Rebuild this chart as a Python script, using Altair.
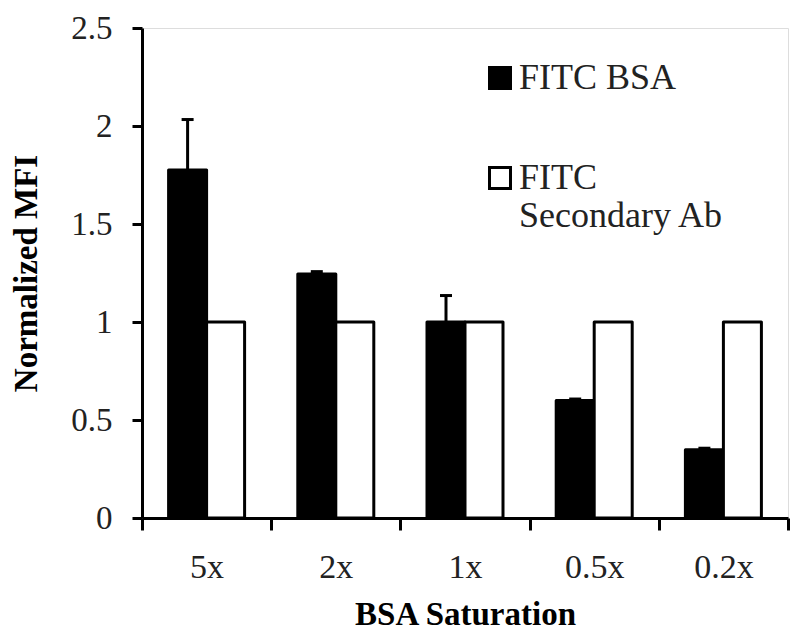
import altair as alt
import pandas as pd

categories = ["5x", "2x", "1x", "0.5x", "0.2x"]
series = ["FITC BSA", "FITC Secondary Ab"]
bsa_values = [1.775, 1.245, 1.0, 0.60, 0.348]
bsa_errors = [0.258, 0.012, 0.135, 0.007, 0.008]
secondary_values = [1.0, 1.0, 1.0, 1.0, 1.0]
y_ticks = [0, 0.5, 1, 1.5, 2, 2.5]

rows = []
for c, v, e in zip(categories, bsa_values, bsa_errors):
    rows.append({"cat": c, "series": series[0], "value": v, "upper": v + e})
for c, v in zip(categories, secondary_values):
    rows.append({"cat": c, "series": series[1], "value": v, "upper": v})
df = pd.DataFrame(rows)
err_df = df[df["series"] == series[0]]

FONT = "'Times New Roman', 'Liberation Serif', 'DejaVu Serif', serif"

x_enc = alt.X(
    "cat:N", sort=categories, title="BSA Saturation",
    scale=alt.Scale(paddingInner=0, paddingOuter=0),
    axis=alt.Axis(labelAngle=0, tickBand="extent", domainWidth=3, domainColor="black",
                  tickWidth=3, tickColor="black", tickSize=12, labelPadding=20,
                  labelFont=FONT, labelFontSize=34, labelColor="#222",
                  titleFont=FONT, titleFontSize=33, titleFontWeight="bold",
                  titleColor="black", titlePadding=14),
)
xoff = alt.XOffset("series:N", sort=series,
                   scale=alt.Scale(domain=series, paddingInner=0, paddingOuter=0.7))
y_scale = alt.Scale(domain=[0, 2.5], nice=False)
y_axis = alt.Axis(values=y_ticks, format=".1~f", grid=False, domainWidth=3,
                  domainColor="black", tickWidth=3, tickColor="black", tickSize=10,
                  labelPadding=20, labelFont=FONT, labelFontSize=33, labelColor="#222",
                  titleFont=FONT, titleFontSize=33, titleFontWeight="bold",
                  titleColor="black", titlePadding=27)

bars = alt.Chart(df).mark_bar(stroke="black", strokeWidth=3, strokeJoin="round").encode(
    x=x_enc,
    xOffset=xoff,
    y=alt.Y("value:Q", scale=y_scale, axis=y_axis, title="Normalized MFI"),
    fill=alt.Fill("series:N", sort=series,
                  scale=alt.Scale(domain=series, range=["black", "white"]),
                  legend=alt.Legend(
                      title=None, orient="none", legendX=340, legendY=32,
                      symbolType="square", symbolSize=441, symbolStrokeWidth=3,
                      symbolStrokeColor="black", labelFont=FONT, labelFontSize=36,
                      labelColor="#222", labelLimit=400, labelOffset=1,
                      rowPadding=64, padding=0,
                      labelExpr="datum.label == 'FITC Secondary Ab' ? ['FITC', 'Secondary Ab'] : datum.label",
                  )),
)

rules = alt.Chart(err_df).mark_rule(strokeWidth=3, color="black").encode(
    x=alt.X("cat:N", sort=categories),
    xOffset=xoff,
    y=alt.Y("value:Q", scale=y_scale),
    y2="upper:Q",
)

caps = alt.Chart(err_df).mark_tick(size=12, thickness=3, color="black", opacity=1).encode(
    x=alt.X("cat:N", sort=categories),
    xOffset=xoff,
    y=alt.Y("upper:Q", scale=y_scale),
)

chart = alt.layer(bars, rules, caps).properties(
    width=646, height=490,
    padding={"left": 134, "top": 20, "right": 4, "bottom": 117},
    autosize=alt.AutoSizeParams(type="none"),
).configure_view(stroke=None).configure(background="white")

chart.save("out.html", embed_options={"renderer": "svg", "actions": False})
